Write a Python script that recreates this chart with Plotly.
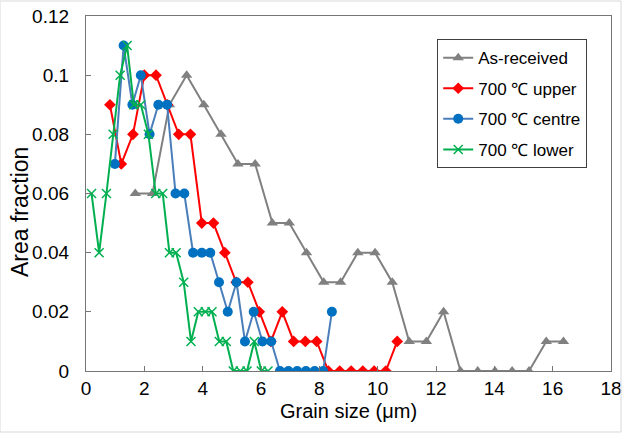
import plotly.graph_objects as go

# ---- data ----
asrec_x = [1.69, 2.28, 2.86, 3.45, 4.04, 4.63, 5.21, 5.80, 6.39, 6.97, 7.56, 8.15, 8.73,
           9.32, 9.91, 10.50, 11.08, 11.67, 12.26, 12.84, 13.43, 14.02, 14.61, 15.19, 15.78, 16.37]
asrec_y = [0.06, 0.06, 0.09, 0.10, 0.09, 0.08, 0.07, 0.07, 0.05, 0.05, 0.04, 0.03, 0.03,
           0.04, 0.04, 0.03, 0.01, 0.01, 0.02, 0, 0, 0, 0, 0, 0.01, 0.01]

upper_x = [0.82, 1.21, 1.61, 2.00, 2.40, 2.79, 3.18, 3.58, 3.97, 4.37, 4.76, 5.15, 5.55,
           5.94, 6.34, 6.73, 7.12, 7.52, 7.91, 8.31, 8.70, 9.09, 9.49, 9.88, 10.28, 10.67]
upper_y = [0.09, 0.07, 0.08, 0.10, 0.10, 0.09, 0.08, 0.08, 0.05, 0.05, 0.04, 0.03, 0.03,
           0.02, 0.01, 0.02, 0.01, 0.01, 0.01, 0, 0, 0, 0, 0, 0, 0.01]

centre_x = [0.99, 1.29, 1.59, 1.88, 2.18, 2.48, 2.78, 3.07, 3.37, 3.67, 3.97, 4.26, 4.56,
            4.86, 5.16, 5.45, 5.75, 6.05, 6.35, 6.65, 6.94, 7.24, 7.54, 7.84, 8.13, 8.43]
centre_y = [0.07, 0.11, 0.09, 0.10, 0.08, 0.09, 0.09, 0.06, 0.06, 0.04, 0.04, 0.04, 0.03,
            0.02, 0.03, 0.01, 0.02, 0.01, 0.01, 0, 0, 0, 0, 0, 0, 0.02]

lower_x = [0.19, 0.45, 0.70, 0.93, 1.17, 1.41, 1.64, 1.88, 2.14, 2.39, 2.63, 2.86, 3.09,
           3.35, 3.60, 3.85, 4.09, 4.32, 4.57, 4.81, 5.05, 5.29, 5.52, 5.77, 6.01, 6.24]
lower_y = [0.06, 0.04, 0.06, 0.08, 0.10, 0.11, 0.09, 0.09, 0.08, 0.06, 0.06, 0.04, 0.04,
           0.03, 0.01, 0.02, 0.02, 0.02, 0.01, 0.01, 0, 0, 0, 0.01, 0, 0]

x_ticks = [0, 2, 4, 6, 8, 10, 12, 14, 16, 18]
y_ticks = [0, 0.02, 0.04, 0.06, 0.08, 0.1, 0.12]
y_ticktext = ["0", "0.02", "0.04", "0.06", "0.08", "0.1", "0.12"]

FONT = "Liberation Sans, Arial, sans-serif"

fig = go.Figure()
fig.add_trace(go.Scatter(x=asrec_x, y=asrec_y, name="As-received", mode="lines+markers",
                         legendgroup="a",
                         line=dict(color="#808080", width=2),
                         marker=dict(symbol="triangle-up", size=10, color="#808080")))
fig.add_trace(go.Scatter(x=upper_x, y=upper_y, name="700 ℃ upper", mode="lines+markers",
                         legendgroup="b",
                         line=dict(color="#FF0000", width=2),
                         marker=dict(symbol="diamond", size=9, color="#FF0000")))
fig.add_trace(go.Scatter(x=centre_x, y=centre_y, name="700 ℃ centre", mode="lines+markers",
                         legendgroup="c",
                         line=dict(color="#4A7EBB", width=2),
                         marker=dict(symbol="circle", size=10, color="#0070C0")))
fig.add_trace(go.Scatter(x=lower_x, y=lower_y, name="700 ℃ lower", mode="lines+markers",
                         legendgroup="d",
                         line=dict(color="#00B050", width=2),
                         marker=dict(symbol="x-thin-open", size=9,
                                     line=dict(color="#00B050", width=1.5))))

axis_common = dict(showline=True, linecolor="#767676", linewidth=1.3, mirror=True,
                   ticks="inside", ticklen=5, tickcolor="#767676", showgrid=False,
                   zeroline=False, automargin=False,
                   tickfont=dict(family=FONT, size=19, color="#000000"))

fig.update_layout(
    width=622, height=433,
    margin=dict(l=86, r=11, t=16, b=62),
    plot_bgcolor="white", paper_bgcolor="white",
    font=dict(family=FONT, color="#000000"),
    xaxis=dict(range=[0, 18], tickvals=x_ticks, ticklabelstandoff=0,
               title=dict(text="Grain size (μm)", font=dict(family=FONT, size=20), standoff=6),
               **axis_common),
    yaxis=dict(range=[0, 0.12], tickvals=y_ticks, ticktext=y_ticktext, ticklabelstandoff=12,
               **axis_common),
    annotations=[dict(text="Area fraction", textangle=-90, showarrow=False,
                      xref="paper", yref="paper", x=-66 / 525, y=159 / 355,
                      xanchor="center", yanchor="middle",
                      font=dict(family=FONT, size=23, color="#000000"))],
    legend=dict(x=0.669, y=0.935, xanchor="left", yanchor="top",
                bordercolor="#404040", borderwidth=1, bgcolor="white",
                font=dict(family=FONT, size=17), traceorder="grouped",
                tracegroupgap=5.5, itemwidth=30),
    shapes=[dict(type="rect", xref="paper", yref="paper",
                 x0=-86 / 525, x1=1 + 10 / 525, y0=-61 / 355, y1=1 + 15 / 355,
                 line=dict(color="#D9D9D9", width=1))],
)

fig.write_html("out.html")
